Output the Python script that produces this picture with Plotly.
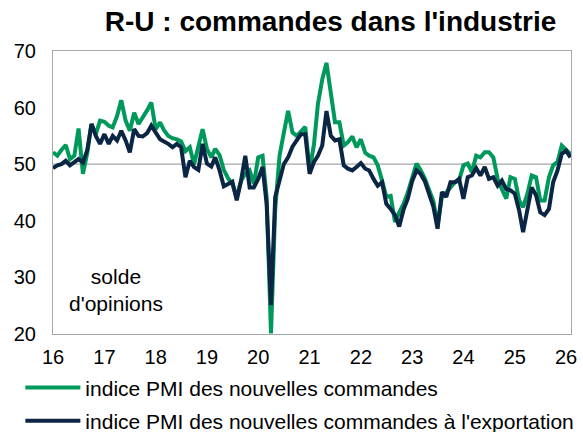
import plotly.graph_objects as go
import pandas as pd

dates = pd.date_range("2016-01-01", periods=122, freq="MS")

new_orders = [
    52.1, 51.5, 52.5, 53.4, 50.9, 51.5, 56.3, 48.3, 52.0, 57.1,
    55.3, 57.7, 57.5, 56.8, 56.5, 58.5, 61.3, 57.7, 55.9, 59.1,
    57.1, 58.2, 59.5, 60.9, 56.2, 57.4, 56.0, 55.0, 54.6, 54.4,
    54.0, 52.3, 53.0, 50.0, 53.0, 56.2, 52.7, 51.2, 52.7, 51.6,
    49.0, 47.5, 46.5, 44.2, 47.1, 48.3, 48.9, 46.5, 51.2, 51.5,
    44.2, 20.1, 42.0, 51.5, 55.5, 59.4, 55.6, 55.0, 55.8, 56.6,
    48.9, 53.5, 60.6, 65.0, 67.9, 63.0, 57.4, 57.4, 53.3, 53.9,
    54.9, 53.0, 54.4, 52.0, 51.5, 51.2, 49.8, 47.1, 44.2, 44.4,
    39.8, 41.5, 43.0, 45.0, 47.5, 50.1, 49.0, 47.5, 45.5, 43.5,
    39.2, 44.2, 45.0, 45.9, 46.8, 47.1, 49.8, 50.1, 48.6, 51.5,
    51.2, 52.1, 52.1, 51.2, 47.4, 45.6, 43.9, 47.7, 47.4, 43.6,
    42.4, 44.8, 48.0, 47.7, 43.6, 43.6, 47.7, 49.8, 50.4, 53.3,
    52.6, 51.8,
]

export_orders = [
    49.3, 49.8, 50.0, 50.6, 49.8, 50.3, 50.9, 50.3, 52.5, 57.1,
    55.0, 53.6, 55.3, 53.6, 55.0, 54.2, 55.9, 54.2, 52.1, 56.2,
    55.0, 54.9, 55.5, 56.8, 55.5, 54.4, 54.0, 53.6, 53.0, 53.6,
    53.0, 47.7, 50.6, 49.5, 49.0, 53.6, 50.1, 49.6, 51.2, 48.9,
    46.1, 46.5, 46.9, 43.6, 47.1, 51.5, 45.9, 45.9, 47.4, 49.5,
    43.0, 25.1, 44.2, 47.1, 50.0, 51.2, 53.1, 54.2, 55.3, 55.3,
    48.3, 50.4, 51.5, 53.3, 59.4, 55.0, 54.2, 54.4, 49.8, 49.2,
    48.9, 49.5, 50.2, 49.2, 48.9, 47.4, 46.2, 46.8, 43.0, 42.1,
    41.0, 39.0, 42.0, 43.9, 47.0, 48.9, 48.3, 47.0, 45.0, 42.5,
    38.6, 45.1, 44.2, 46.8, 46.8, 47.4, 43.9, 47.7, 48.0, 49.3,
    48.0, 49.5, 47.4, 47.7, 46.2, 47.1, 45.6, 45.4, 44.8, 41.8,
    38.0, 42.4, 45.9, 44.5, 41.5, 41.0, 42.1, 46.8, 48.9, 51.8,
    52.4, 51.2,
]

year_ticks = pd.date_range("2016-01-01", "2026-01-01", freq="YS")
year_labels = ["16", "17", "18", "19", "20", "21", "22", "23", "24", "25", "26"]
y_ticks = [20, 30, 40, 50, 60, 70]

series_names = [
    "indice PMI des nouvelles commandes",
    "indice PMI des nouvelles commandes à l'exportation",
]
colors = ["#00995C", "#0B2545"]

fig = go.Figure()
for k, (vals, name, col) in enumerate(zip([new_orders, export_orders], series_names, colors)):
    fig.add_trace(go.Scatter(
        x=dates, y=vals, mode="lines", name=name, legendgroup=f"g{k}",
        line=dict(color=col, width=4),
    ))

fig.add_shape(type="line", xref="paper", x0=0, x1=1, yref="y", y0=50, y1=50,
              line=dict(color="#A6A6A6", width=1.2), layer="below")

fig.add_annotation(x=0.121, y=0.155, xref="paper", yref="paper",
                   xanchor="center", yanchor="middle",
                   text="solde<br>d'opinions", showarrow=False,
                   font=dict(size=21, color="black"), align="center")

fig.update_layout(
    width=583, height=432,
    margin=dict(l=53, r=12, t=51, b=98, autoexpand=False),
    paper_bgcolor="white", plot_bgcolor="white",
    font=dict(family="Liberation Sans, Arial, sans-serif", size=20, color="black"),
    title=dict(text="<b>R-U : commandes dans l'industrie</b>", x=0.567, xanchor="center",
               y=0.95, yanchor="middle", font=dict(size=28, color="black")),
    showlegend=True,
    legend=dict(x=-0.063, y=-0.118, xanchor="left", yanchor="top",
                font=dict(size=21), tracegroupgap=3, itemwidth=55,
                bgcolor="rgba(0,0,0,0)"),
    xaxis=dict(
        type="date",
        range=["2016-01-01", "2026-02-05"],
        tickvals=year_ticks, ticktext=year_labels,
        showgrid=False, zeroline=False,
        showline=True, linecolor="#A6A6A6", linewidth=1.2, mirror=True,
        ticks="", tickfont=dict(size=20), ticklabelstandoff=5,
    ),
    yaxis=dict(
        range=[20, 70], tickvals=y_ticks,
        showgrid=False, zeroline=False,
        showline=True, linecolor="#A6A6A6", linewidth=1.2, mirror=True,
        ticks="", tickfont=dict(size=20), ticklabelstandoff=12,
    ),
)

fig.write_html("out.html")
